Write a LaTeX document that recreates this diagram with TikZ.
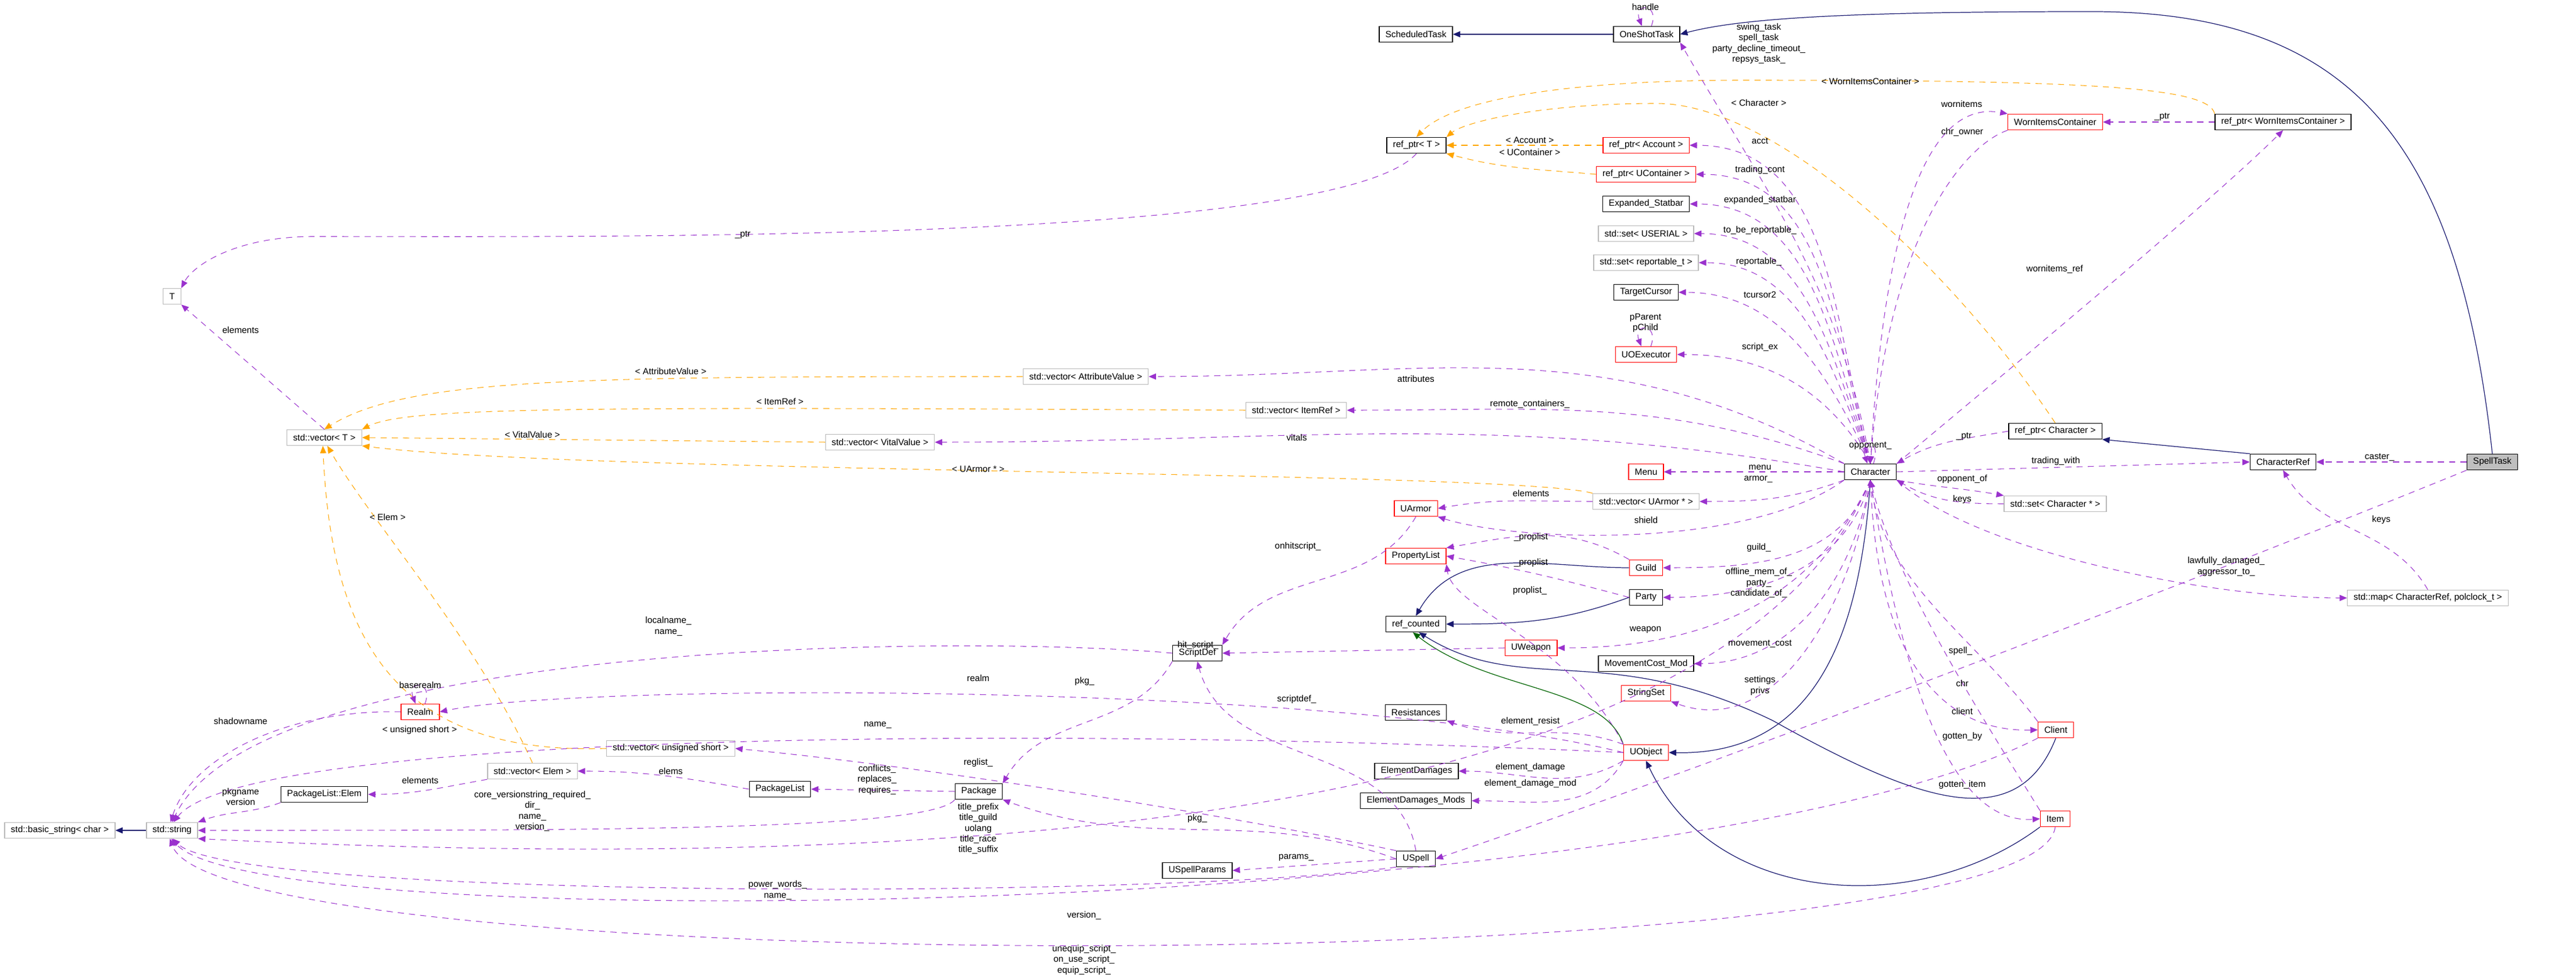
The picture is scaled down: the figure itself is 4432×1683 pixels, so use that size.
\documentclass[tikz,border=0pt]{standalone}
\usepackage{fontspec}
\setmainfont{Liberation Sans}
\usetikzlibrary{arrows.meta}
\definecolor{usecol}{HTML}{9A32CD}
\definecolor{tplcol}{HTML}{FFA500}
\definecolor{inhcol}{HTML}{191970}
\definecolor{protcol}{HTML}{006400}
\tikzset{
  cls/.style={draw=black, line width=0.4pt, font=\fontsize{4.4}{5.2}\selectfont, inner xsep=3pt, inner ysep=0pt, minimum height=0.27cm},
  red/.style={cls, draw=red},
  ext/.style={cls, draw=gray!55},
  me/.style={cls, fill=gray!50},
  lbl/.style={font=\fontsize{4.4}{5.2}\selectfont, align=center, inner sep=0pt},
  use/.style={draw=usecol, dashed, line width=0.3pt, dash pattern=on 3pt off 2.5pt, -{Triangle[length=3.6pt,width=3pt]}},
  tpl/.style={draw=tplcol, dashed, line width=0.3pt, dash pattern=on 3pt off 2.5pt, -{Triangle[length=3.6pt,width=3pt]}},
  inh/.style={draw=inhcol, line width=0.35pt, -{Triangle[length=3.6pt,width=3pt]}},
  prot/.style={draw=protcol, line width=0.35pt, -{Triangle[length=3.6pt,width=3pt]}},
}
\begin{document}
\begin{tikzpicture}[x=0.01cm,y=0.01cm]
\useasboundingbox (0,0) rectangle (4432,-1683);
% classes
\node[cls] (SchedTask) at (2436,-59) {ScheduledTask};
\node[cls] (OneShot) at (2833,-59) {OneShotTask};
\node[cls] (RefT) at (2437,-250) {ref\_ptr< T >};
\node[red] (RefAcct) at (2832,-250) {ref\_ptr< Account >};
\node[red] (RefUCont) at (2832,-300) {ref\_ptr< UContainer >};
\node[cls] (ExpStat) at (2832,-351) {Expanded\_Statbar};
\node[ext] (SetUser) at (2832,-402) {std::set< USERIAL >};
\node[ext] (SetRep) at (2832,-452) {std::set< reportable\_t >};
\node[cls] (TCursor) at (2832,-503) {TargetCursor};
\node[red] (UOExec) at (2832,-610) {UOExecutor};
\node[ext] (VecAttr) at (1868,-648) {std::vector< AttributeValue >};
\node[ext] (VecItemRef) at (2230,-706) {std::vector< ItemRef >};
\node[ext] (VecVital) at (1514,-761) {std::vector< VitalValue >};
\node[cls] (Character) at (3218,-812) {Character};
\node[red] (Menu) at (2832,-812) {Menu};
\node[ext] (VecArmor) at (2832,-863) {std::vector< UArmor * >};
\node[red] (UArmor) at (2436,-875) {UArmor};
\node[red] (PropList) at (2436,-957) {PropertyList};
\node[red] (Guild) at (2832,-977) {Guild};
\node[cls] (Party) at (2832,-1028) {Party};
\node[cls] (RefCounted) at (2436,-1074) {ref\_counted};
\node[red] (UWeapon) at (2634,-1115) {UWeapon};
\node[cls] (MoveCost) at (2832,-1142) {MovementCost\_Mod};
\node[red] (StrSet) at (2832,-1193) {StringSet};
\node[cls] (ScriptDef) at (2060,-1124) {ScriptDef};
\node[cls] (Resist) at (2436,-1226) {Resistances};
\node[red] (UObject) at (2832,-1295) {UObject};
\node[cls] (ElemDmg) at (2437,-1327) {ElementDamages};
\node[cls] (ElemDmgMods) at (2436,-1378) {ElementDamages\_Mods};
\node[red] (Client) at (3537,-1256) {Client};
\node[red] (Item) at (3536,-1409) {Item};
\node[cls] (USpell) at (2436,-1478) {USpell};
\node[cls] (USpellParams) at (2060,-1498) {USpellParams};
\node[cls] (Package) at (1684,-1362) {Package};
\node[cls] (PackageList) at (1342,-1358) {PackageList};
\node[ext] (VecUShort) at (1154,-1288) {std::vector< unsigned short >};
\node[ext] (VecElem) at (916,-1327) {std::vector< Elem >};
\node[cls] (PLElem) at (558,-1367) {PackageList::Elem};
\node[red] (Realm) at (723,-1225) {Realm};
\node[ext] (StdString) at (296,-1429) {std::string};
\node[ext] (BasicString) at (103,-1429) {std::basic\_string< char >};
\node[ext] (T) at (296,-510) {T};
\node[ext] (VecT) at (558,-753) {std::vector< T >};
\node[red] (WornItems) at (3536,-210) {WornItemsContainer};
\node[cls] (RefWorn) at (3928,-210) {ref\_ptr< WornItemsContainer >};
\node[cls] (RefChar) at (3536,-742) {ref\_ptr< Character >};
\node[cls] (CharRef) at (3928,-795) {CharacterRef};
\node[ext] (SetChar) at (3536,-867) {std::set< Character * >};
\node[ext] (StdMap) at (4177,-1029) {std::map< CharacterRef, polclock\_t >};
\node[me] (SpellTask) at (4288,-795) {SpellTask};

% inheritance
\path[inh] (OneShot) -- (SchedTask);
\path[inh] (SpellTask.north) .. controls (4230,-250) and (4050,-20) .. (3600,-20) .. controls (3200,-20) and (3000,-30) .. (OneShot.east);
\path[inh] (CharRef.north west) -- (RefChar.south east);
\path[inh] (Guild.west) to[out=180,in=60] (RefCounted.north);
\path[inh] (Party.west) to[out=200,in=0] (RefCounted.east);
\path[prot] (UObject.north west) .. controls (2760,-1180) and (2560,-1190) .. (RefCounted.250);
\path[inh] (Client.south) .. controls (3470,-1440) and (3300,-1380) .. (3050,-1240) .. controls (2760,-1100) and (2620,-1200) .. (RefCounted.290);
\path[inh] (Item.south west) .. controls (3300,-1580) and (2950,-1560) .. (UObject.south);
\path[inh] (Character.south) .. controls (3200,-1100) and (3120,-1300) .. (UObject.east);
\path[inh] (StdString) -- (BasicString);

% templates
\path[tpl] (RefWorn.north west) .. controls (3800,-150) and (3600,-138) .. (3000,-138) .. controls (2700,-138) and (2500,-170) .. (RefT.north);
\path[tpl] (RefChar.north) .. controls (3350,-450) and (3050,-178) .. (2850,-178) .. controls (2650,-178) and (2520,-210) .. (RefT.north east);
\path[tpl] (RefAcct.west) -- (RefT.east);
\path[tpl] (RefUCont.west) to[out=175,in=-15] (RefT.south east);
\path[tpl] (VecAttr.west) .. controls (1000,-648) and (700,-650) .. (VecT.north);
\path[tpl] (VecItemRef.west) .. controls (1000,-700) and (700,-700) .. (VecT.north east);
\path[tpl] (VecVital.west) -- (VecT.east);
\path[tpl] (VecArmor.north west) .. controls (2600,-810) and (1000,-815) .. (VecT.south east);
\path[tpl] (VecElem.north) .. controls (820,-1100) and (640,-900) .. (VecT.290);
\path[tpl] (VecUShort.west) .. controls (680,-1300) and (570,-1100) .. (VecT.260);

% members
\path[use] (OneShot.60) .. controls +(15,40) and +(-15,40) .. (OneShot.120);
\path[use] (Character.north) to[out=100,in=-60] (OneShot.south east);
\path[use] (Character.north) to[out=105,in=0] (RefAcct.east);
\path[use] (Character.north) to[out=106,in=0] (RefUCont.east);
\path[use] (Character.north) to[out=108,in=0] (ExpStat.east);
\path[use] (Character.north) to[out=110,in=0] (SetUser.east);
\path[use] (Character.north) to[out=112,in=0] (SetRep.east);
\path[use] (Character.north) to[out=115,in=0] (TCursor.east);
\path[use] (UOExec.60) .. controls +(15,40) and +(-15,40) .. (UOExec.120);
\path[use] (Character.north) to[out=120,in=0] (UOExec.east);
\path[use] (Character.north west) to[out=150,in=0] (VecAttr.east);
\path[use] (Character.north west) to[out=160,in=0] (VecItemRef.east);
\path[use] (Character.west) to[out=170,in=0] (VecVital.east);
\path[use] (Character.70) .. controls +(15,45) and +(-15,45) .. (Character.110);
\path[use] (RefChar.west) to[out=190,in=30] (Character.north east);
\path[use] (Character.west) -- (Menu.east);
\path[use] (Character.south west) to[out=200,in=0] (VecArmor.east);
\path[use] (VecArmor.west) to[out=180,in=10] (UArmor.east);
\path[use] (Character.south west) .. controls (3000,-950) and (2600,-930) .. (UArmor.south east);
\path[use] (Guild.north west) to[out=150,in=10] (PropList.north east);
\path[use] (Party.west) to[out=165,in=-10] (PropList.east);
\path[use] (UObject.north west) .. controls (2700,-1100) and (2500,-1050) .. (PropList.south east);
\path[use] (Character.south) to[out=-110,in=0] (Guild.east);
\path[use] (Character.south) to[out=-105,in=0] (Party.east);
\path[use] (Character.south) to[out=-115,in=0] (UWeapon.east);
\path[use] (Character.south) to[out=-100,in=0] (MoveCost.east);
\path[use] (Character.south) to[out=-98,in=-20] (StrSet.south east);
\path[use] (UArmor.south) to[out=-120,in=60] (ScriptDef.north east);
\path[use] (UWeapon.west) -- (ScriptDef.east);
\path[use] (ScriptDef.west) .. controls (1700,-1094) and (450,-1094) .. (StdString.north);
\path[use] (ScriptDef.south west) to[out=-120,in=60] (Package.north east);
\path[use] (USpell.north) to[out=100,in=-75] (ScriptDef.south);
\path[use] (UObject.west) .. controls (2300,-1174) and (1000,-1174) .. (Realm.east);
\path[use] (Realm.60) .. controls +(15,40) and +(-15,40) .. (Realm.120);
\path[use] (Realm.west) .. controls (500,-1220) and (330,-1300) .. (StdString.100);
\path[use] (UObject.west) .. controls (1800,-1248) and (420,-1260) .. (StdString.80);
\path[use] (UObject.north west) to[out=160,in=-20] (Resist.south east);
\path[use] (UObject.south west) to[out=-150,in=0] (ElemDmg.east);
\path[use] (UObject.south west) to[out=-120,in=0] (ElemDmgMods.east);
\path[use] (USpell.north west) .. controls (2100,-1400) and (1600,-1320) .. (VecUShort.east);
\path[use] (Package.west) -- (PackageList.east);
\path[use] (PackageList.west) to[out=170,in=0] (VecElem.east);
\path[use] (VecElem.south west) to[out=190,in=0] (PLElem.east);
\path[use] (PLElem.south west) to[out=200,in=20] (StdString.north east);
\path[use] (Package.south west) .. controls (1600,-1430) and (1000,-1429) .. (StdString.east);
\path[use] (Character.south) .. controls (3000,-1350) and (1900,-1520) .. (StdString.south east);
\path[use] (USpell.west) to[out=160,in=-20] (Package.south east);
\path[use] (USpell.west) -- (USpellParams.east);
\path[use] (USpell.south west) .. controls (2000,-1548) and (400,-1548) .. (StdString.275);
\path[use] (Client.south west) .. controls (2900,-1580) and (450,-1620) .. (StdString.265);
\path[use] (Item.south) .. controls (3500,-1690) and (380,-1690) .. (StdString.255);
\path[use] (SpellTask.south west) .. controls (3900,-950) and (3000,-1300) .. (USpell.east);
\path[use] (Character.south) .. controls (3230,-1150) and (3350,-1260) .. (Client.west);
\path[use] (Client.north west) .. controls (3400,-1100) and (3240,-1000) .. (Character.south);
\path[use] (Item.north west) .. controls (3420,-1250) and (3260,-1000) .. (Character.south);
\path[use] (Character.south) .. controls (3270,-1150) and (3350,-1420) .. (Item.west);
\path[use] (Character.north east) .. controls (3500,-600) and (3800,-350) .. (RefWorn.south);
\path[use] (RefWorn.west) -- (WornItems.east);
\path[use] (Character.north) .. controls (3240,-400) and (3310,-170) .. (WornItems.north west);
\path[use] (WornItems.south west) .. controls (3380,-250) and (3250,-400) .. (Character.north);
\path[use] (Character.east) -- (CharRef.west);
\path[use] (Character.south east) to[out=-10,in=170] (SetChar.north west);
\path[use] (SetChar.west) to[out=180,in=-30] (Character.south east);
\path[use] (SpellTask.west) -- (CharRef.east);
\path[use] (StdMap.north) to[out=120,in=-60] (CharRef.south);
\path[use] (Character.south east) .. controls (3400,-950) and (3800,-1029) .. (StdMap.west);
\path[use] (RefT.south) .. controls (2300,-420) and (1000,-407) .. (540,-407) .. controls (400,-407) and (330,-460) .. (T.north east);
\path[use] (VecT.north) -- (T.south east);

% labels
\node[lbl] (lHandle) at (2831,-12) {handle};
\node[lbl] (lTasks) at (3026,-75) {swing\_task\\spell\_task\\party\_decline\_timeout\_\\repsys\_task\_};
\node[lbl] (lTWorn) at (3218,-140) {< WornItemsContainer >};
\node[lbl] (lTChar) at (3026,-177) {< Character >};
\node[lbl] (lTAcct) at (2632,-241) {< Account >};
\node[lbl] (lTUCont) at (2632,-262) {< UContainer >};
\node[lbl] (lAcct) at (3028,-243) {acct};
\node[lbl] (lTrCont) at (3028,-293) {trading\_cont};
\node[lbl] (lExpStat) at (3028,-345) {expanded\_statbar};
\node[lbl] (lToBe) at (3028,-397) {to\_be\_reportable\_};
\node[lbl] (lRep) at (3026,-451) {reportable\_};
\node[lbl] (lTCur) at (3028,-507) {tcursor2};
\node[lbl] (lPar) at (2831,-556) {pParent\\pChild};
\node[lbl] (lScEx) at (3028,-598) {script\_ex};
\node[lbl] (lWorn) at (3375,-179) {wornitems};
\node[lbl] (lChrOwn) at (3376,-227) {chr\_owner};
\node[lbl] (lWPtr) at (3720,-201) {\_ptr};
\node[lbl] (lWornRef) at (3535,-463) {wornitems\_ref};
\node[lbl] (lCPtr) at (3379,-751) {\_ptr};
\node[lbl] (lTrWith) at (3537,-794) {trading\_with};
\node[lbl] (lOppOf) at (3376,-825) {opponent\_of};
\node[lbl] (lKeys) at (3376,-860) {keys};
\node[lbl] (lCaster) at (4094,-787) {caster\_};
\node[lbl] (lKeys2) at (4097,-895) {keys};
\node[lbl] (lLawf) at (3830,-975) {lawfully\_damaged\_\\aggressor\_to\_};
\node[lbl] (lAttr) at (2436,-652) {attributes};
\node[lbl] (lRemote) at (2632,-695) {remote\_containers\_};
\node[lbl] (lVitals) at (2231,-753) {vitals};
\node[lbl] (lOpp) at (3218,-767) {opponent\_};
\node[lbl] (lMenu) at (3028,-804) {menu};
\node[lbl] (lArmor) at (3025,-825) {armor\_};
\node[lbl] (lElemA) at (2634,-849) {elements};
\node[lbl] (lShield) at (2832,-895) {shield};
\node[lbl] (lProp1) at (2634,-925) {\_proplist};
\node[lbl] (lGuild) at (3026,-943) {guild\_};
\node[lbl] (lOnHit) at (2233,-941) {onhitscript\_};
\node[lbl] (lProp2) at (2634,-969) {\_proplist};
\node[lbl] (lParty) at (3026,-1003) {offline\_mem\_of\_\\party\_\\candidate\_of\_};
\node[lbl] (lProp3) at (2632,-1017) {proplist\_};
\node[lbl] (lWeapon) at (2831,-1084) {weapon};
\node[lbl] (lMove) at (3028,-1108) {movement\_cost};
\node[lbl] (lSett) at (3028,-1180) {settings\\privs};
\node[lbl] (lSpell) at (3373,-1121) {spell\_};
\node[lbl] (lChr) at (3376,-1176) {chr};
\node[lbl] (lClient) at (3376,-1224) {client};
\node[lbl] (lGotBy) at (3376,-1268) {gotten\_by};
\node[lbl] (lGotIt) at (3376,-1351) {gotten\_item};
\node[lbl] (lHitSc) at (2061,-1111) {hit\_script\_};
\node[lbl] (lScrDef) at (2231,-1204) {scriptdef\_};
\node[lbl] (lResist) at (2633,-1241) {element\_resist};
\node[lbl] (lDmg) at (2633,-1321) {element\_damage};
\node[lbl] (lDmgMod) at (2633,-1349) {element\_damage\_mod};
\node[lbl] (lPkg2) at (2060,-1409) {pkg\_};
\node[lbl] (lParams) at (2230,-1476) {params\_};
\node[lbl] (lTAttr) at (1154,-639) {< AttributeValue >};
\node[lbl] (lTItem) at (1342,-691) {< ItemRef >};
\node[lbl] (lTVital) at (916,-748) {< VitalValue >};
\node[lbl] (lTArmor) at (1683,-807) {< UArmor * >};
\node[lbl] (lTElem) at (667,-890) {< Elem >};
\node[lbl] (lTPtr) at (1278,-404) {\_ptr};
\node[lbl] (lTElems) at (414,-568) {elements};
\node[lbl] (lLocal) at (1150,-1078) {localname\_\\name\_};
\node[lbl] (lRealm) at (1683,-1167) {realm};
\node[lbl] (lPkg) at (1866,-1173) {pkg\_};
\node[lbl] (lBase) at (723,-1179) {baserealm};
\node[lbl] (lShadow) at (414,-1241) {shadowname};
\node[lbl] (lName) at (1510,-1248) {name\_};
\node[lbl] (lTUShort) at (722,-1257) {< unsigned short >};
\node[lbl] (lRegl) at (1683,-1313) {reglist\_};
\node[lbl] (lElems) at (1154,-1327) {elems};
\node[lbl] (lConfl) at (1509,-1342) {conflicts\_\\replaces\_\\requires\_};
\node[lbl] (lElemE) at (723,-1343) {elements};
\node[lbl] (lPkgName) at (414,-1371) {pkgname\\version};
\node[lbl] (lCore) at (916,-1396) {core\_versionstring\_required\_\\dir\_\\name\_\\version\_};
\node[lbl] (lTitle) at (1683,-1426) {title\_prefix\\title\_guild\\uolang\\title\_race\\title\_suffix};
\node[lbl] (lPower) at (1338,-1532) {power\_words\_\\name\_};
\node[lbl] (lVersion) at (1865,-1575) {version\_};
\node[lbl] (lUnequip) at (1865,-1652) {unequip\_script\_\\on\_use\_script\_\\equip\_script\_};
\end{tikzpicture}
\end{document}
